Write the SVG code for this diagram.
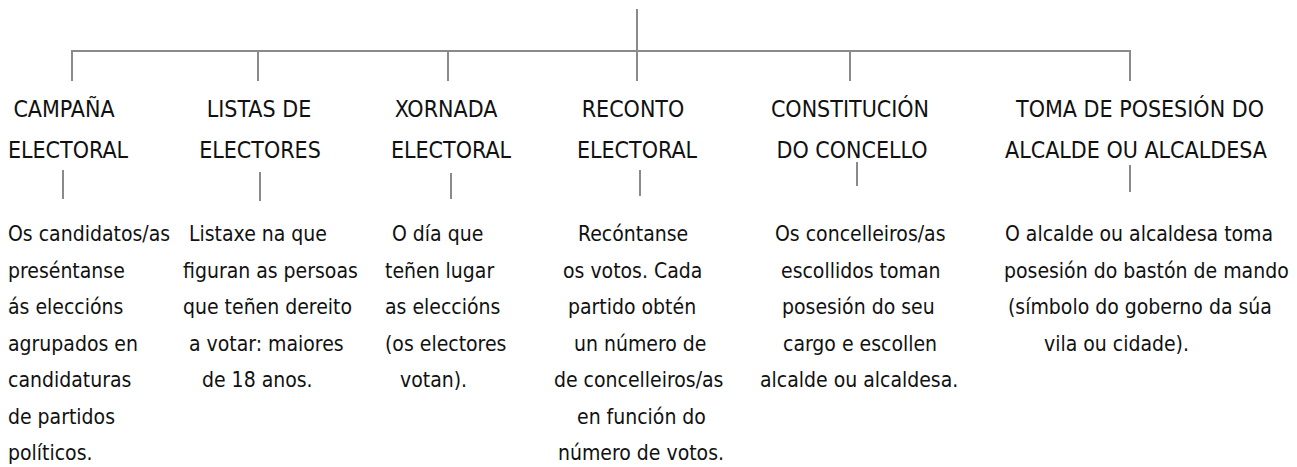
<svg xmlns="http://www.w3.org/2000/svg" width="1297" height="467" viewBox="0 0 1297 467">
<style>
.c{stroke:#8a8a8a;stroke-width:2;fill:none}
.h{font-family:"DejaVu Sans Condensed","DejaVu Sans",sans-serif;font-size:23px;fill:#111;text-anchor:middle}
.b{font-family:"DejaVu Sans Condensed","DejaVu Sans",sans-serif;font-size:21px;fill:#111}
</style>
<rect width="1297" height="467" fill="#fff"/>
<g id="connectors">
<path class="c" d="M637 9V51M72 81V51H1130V81M258 51V81M448 51V81M637 51V81M850 51V81"/>
<path class="c" d="M63 170V199M260 172V201M451 173V199M640 170V196M857 162V186M1130 165V192"/>
</g>
<g id="n1">
<text class="h" x="64" y="117">CAMPAÑA</text>
<text class="h" x="68" y="158">ELECTORAL</text>
<text class="b" x="8" y="241">Os candidatos/as</text>
<text class="b" x="8" y="277.5">preséntanse</text>
<text class="b" x="8" y="314">ás eleccións</text>
<text class="b" x="8" y="350.5">agrupados en</text>
<text class="b" x="8" y="387">candidaturas</text>
<text class="b" x="8" y="423.5">de partidos</text>
<text class="b" x="8" y="460">políticos.</text>
</g>
<g id="n2">
<text class="h" x="259" y="117">LISTAS DE</text>
<text class="h" x="260" y="158">ELECTORES</text>
<text class="b" x="189" y="241">Listaxe na que</text>
<text class="b" x="183" y="277.5">figuran as persoas</text>
<text class="b" x="183" y="314">que teñen dereito</text>
<text class="b" x="189" y="350.5">a votar: maiores</text>
<text class="b" x="202" y="387">de 18 anos.</text>
</g>
<g id="n3">
<text class="h" x="446" y="117">XORNADA</text>
<text class="h" x="451" y="158">ELECTORAL</text>
<text class="b" x="392" y="241">O día que</text>
<text class="b" x="385" y="277.5">teñen lugar</text>
<text class="b" x="385" y="314">as eleccións</text>
<text class="b" x="385" y="350.5">(os electores</text>
<text class="b" x="400" y="387">votan).</text>
</g>
<g id="n4">
<text class="h" x="633" y="117">RECONTO</text>
<text class="h" x="637" y="158">ELECTORAL</text>
<text class="b" x="578" y="241">Recóntanse</text>
<text class="b" x="563" y="277.5">os votos. Cada</text>
<text class="b" x="568" y="314">partido obtén</text>
<text class="b" x="574" y="350.5">un número de</text>
<text class="b" x="554" y="387">de concelleiros/as</text>
<text class="b" x="577" y="423.5">en función do</text>
<text class="b" x="558" y="460">número de votos.</text>
</g>
<g id="n5">
<text class="h" x="850" y="117">CONSTITUCIÓN</text>
<text class="h" x="852" y="158">DO CONCELLO</text>
<text class="b" x="775" y="241">Os concelleiros/as</text>
<text class="b" x="781" y="277.5">escollidos toman</text>
<text class="b" x="782" y="314">posesión do seu</text>
<text class="b" x="783" y="350.5">cargo e escollen</text>
<text class="b" x="760" y="387">alcalde ou alcaldesa.</text>
</g>
<g id="n6">
<text class="h" x="1140" y="117">TOMA DE POSESIÓN DO</text>
<text class="h" x="1136" y="158">ALCALDE OU ALCALDESA</text>
<text class="b" x="1005" y="241">O alcalde ou alcaldesa toma</text>
<text class="b" x="1004" y="277.5">posesión do bastón de mando</text>
<text class="b" x="1008" y="314">(símbolo do goberno da súa</text>
<text class="b" x="1044" y="350.5">vila ou cidade).</text>
</g>
</svg>
